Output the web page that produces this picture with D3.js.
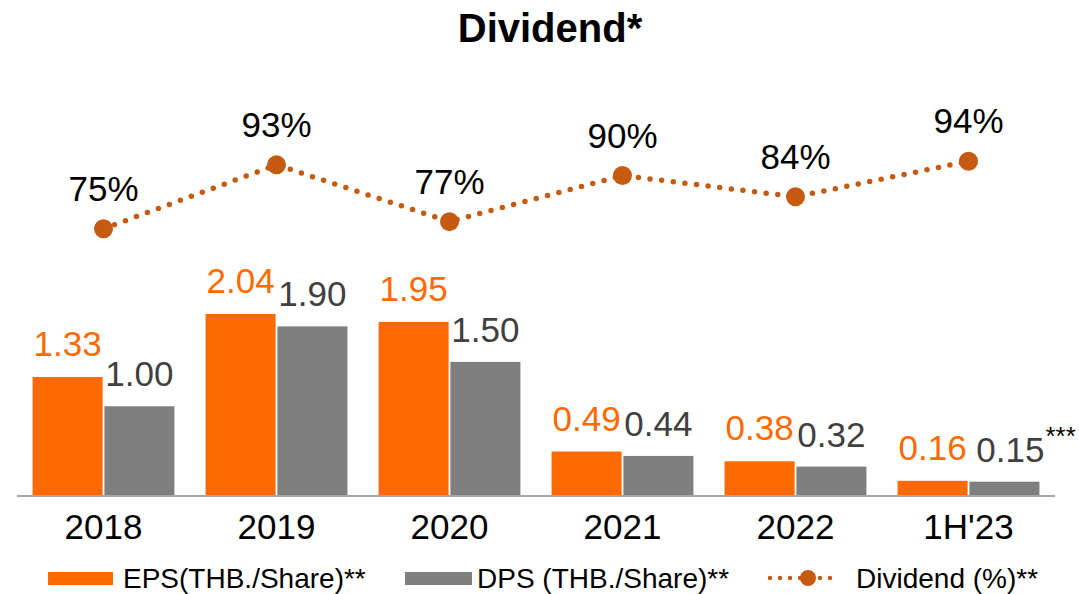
<!DOCTYPE html>
<html>
<head>
<meta charset="utf-8">
<script src="https://cdn.jsdelivr.net/npm/d3@7"></script>
<style>
  body { margin: 0; background: #fff; }
  text { font-family: "Liberation Sans", Arial, sans-serif; }
</style>
</head>
<body>
<svg width="1079" height="594"></svg>
<script>
const categories = ["2018", "2019", "2020", "2021", "2022", "1H'23"]
const eps = [1.33, 2.04, 1.95, 0.49, 0.38, 0.16]
const dps = [1.00, 1.90, 1.50, 0.44, 0.32, 0.15]
const dividend = [75, 93, 77, 90, 84, 94]
const dpsNotes = ["", "", "", "", "", "***"]
const legendLabels = ["EPS(THB./Share)**", "DPS (THB./Share)**", "Dividend (%)**"]

const svg = d3.select("svg"),
      baseY = 495,
      topY = 140,
      orange = "#ff6a00",
      grey = "#7f7f7f",
      lineCol = "#c55a11"

const x = d3.scaleBand()
        .domain(categories)
        .range([17, 1055])
        .paddingInner(0.18)
        .paddingOuter(0.09),
      xSub = d3.scaleBand()
        .domain(["eps", "dps"])
        .range([0, x.bandwidth()])
        .paddingInner(0.025),
      yBar = d3.scaleLinear().domain([0, 4]).range([baseY, topY]),
      yLine = d3.scaleLinear().domain([0, 100]).range([baseY, topY])

const rows = categories.map((c, i) => ({
  cat: c, eps: eps[i], dps: dps[i], div: dividend[i], note: dpsNotes[i]
}))

// title
svg.append("text")
    .attr("x", 550)
    .attr("y", 42)
    .attr("text-anchor", "middle")
    .style("font-size", "40px")
    .style("font-weight", "bold")
    .text("Dividend*")

// bars
const groups = svg.selectAll(".grp")
    .data(rows)
  .enter().append("g")
    .attr("transform", (d) => "translate(" + x(d.cat) + ",0)")

groups.append("rect")
    .attr("x", xSub("eps"))
    .attr("y", (d) => yBar(d.eps))
    .attr("width", xSub.bandwidth())
    .attr("height", (d) => baseY - yBar(d.eps))
    .style("fill", orange)

groups.append("rect")
    .attr("x", xSub("dps"))
    .attr("y", (d) => yBar(d.dps))
    .attr("width", xSub.bandwidth())
    .attr("height", (d) => baseY - yBar(d.dps))
    .style("fill", grey)

groups.append("text")
    .attr("x", xSub("eps") + xSub.bandwidth() / 2)
    .attr("y", (d) => yBar(d.eps) - 21)
    .attr("text-anchor", "middle")
    .style("font-size", "35px")
    .style("fill", orange)
    .text((d) => d.eps.toFixed(2))

const dpsLabels = groups.append("text")
    .attr("x", xSub("dps") + xSub.bandwidth() / 2)
    .attr("dx", (d) => d.note ? 6 : 0)
    .attr("y", (d) => yBar(d.dps) - 20)
    .attr("text-anchor", "middle")
    .style("font-size", "35px")
    .style("fill", "#404040")
    .text((d) => d.dps.toFixed(2))

dpsLabels.filter((d) => d.note).each(function(d) {
  const bb = this.getBBox()
  d3.select(this.parentNode).append("text")
      .attr("x", bb.x + bb.width + 1)
      .attr("y", yBar(d.dps) - 37)
      .style("font-size", "26px")
      .style("fill", "#000")
      .text(d.note)
})

// axis line
svg.append("line")
    .attr("x1", x.range()[0])
    .attr("x2", x.range()[1])
    .attr("y1", baseY + 1)
    .attr("y2", baseY + 1)
    .style("stroke", "#a6a6a6")
    .style("stroke-width", 2)

svg.selectAll(".cat")
    .data(categories)
  .enter().append("text")
    .attr("x", (d) => x(d) + x.bandwidth() / 2)
    .attr("y", 539)
    .attr("text-anchor", "middle")
    .style("font-size", "35px")
    .style("fill", "#000")
    .text((d) => d)

// dividend line
const line = d3.line()
    .x((d) => x(d.cat) + x.bandwidth() / 2)
    .y((d) => yLine(d.div))

svg.append("path")
    .datum(rows)
    .attr("d", line)
    .style("fill", "none")
    .style("stroke", lineCol)
    .style("stroke-width", 5.5)
    .style("stroke-linecap", "round")
    .style("stroke-dasharray", "0 11.7")

svg.selectAll(".pt")
    .data(rows)
  .enter().append("circle")
    .attr("cx", (d) => x(d.cat) + x.bandwidth() / 2)
    .attr("cy", (d) => yLine(d.div))
    .attr("r", 9.5)
    .style("fill", lineCol)

svg.selectAll(".pct")
    .data(rows)
  .enter().append("text")
    .attr("x", (d) => x(d.cat) + x.bandwidth() / 2)
    .attr("y", (d) => yLine(d.div) - 28)
    .attr("text-anchor", "middle")
    .style("font-size", "35px")
    .style("fill", "#000")
    .text((d) => d.div + "%")

// legend
const legend = svg.append("g")
const legX = [48, 405, 770],
      legY = 578

legend.append("rect").attr("x", legX[0]).attr("y", legY - 6).attr("width", 65).attr("height", 13).style("fill", orange)
legend.append("rect").attr("x", legX[1]).attr("y", legY - 6).attr("width", 67).attr("height", 13).style("fill", grey)
legend.append("line")
    .attr("x1", legX[2]).attr("x2", legX[2] + 67)
    .attr("y1", legY).attr("y2", legY)
    .style("stroke", lineCol)
    .style("stroke-width", 4.5)
    .style("stroke-linecap", "round")
    .style("stroke-dasharray", "0 10")
legend.append("circle").attr("cx", legX[2] + 38).attr("cy", legY).attr("r", 8).style("fill", lineCol)

legend.selectAll(".lt")
    .data(legendLabels)
  .enter().append("text")
    .attr("x", (d, i) => [123, 477, 856][i])
    .attr("y", legY + 10)
    .style("font-size", "28px")
    .style("fill", "#000")
    .text((d) => d)
</script>
</body>
</html>
